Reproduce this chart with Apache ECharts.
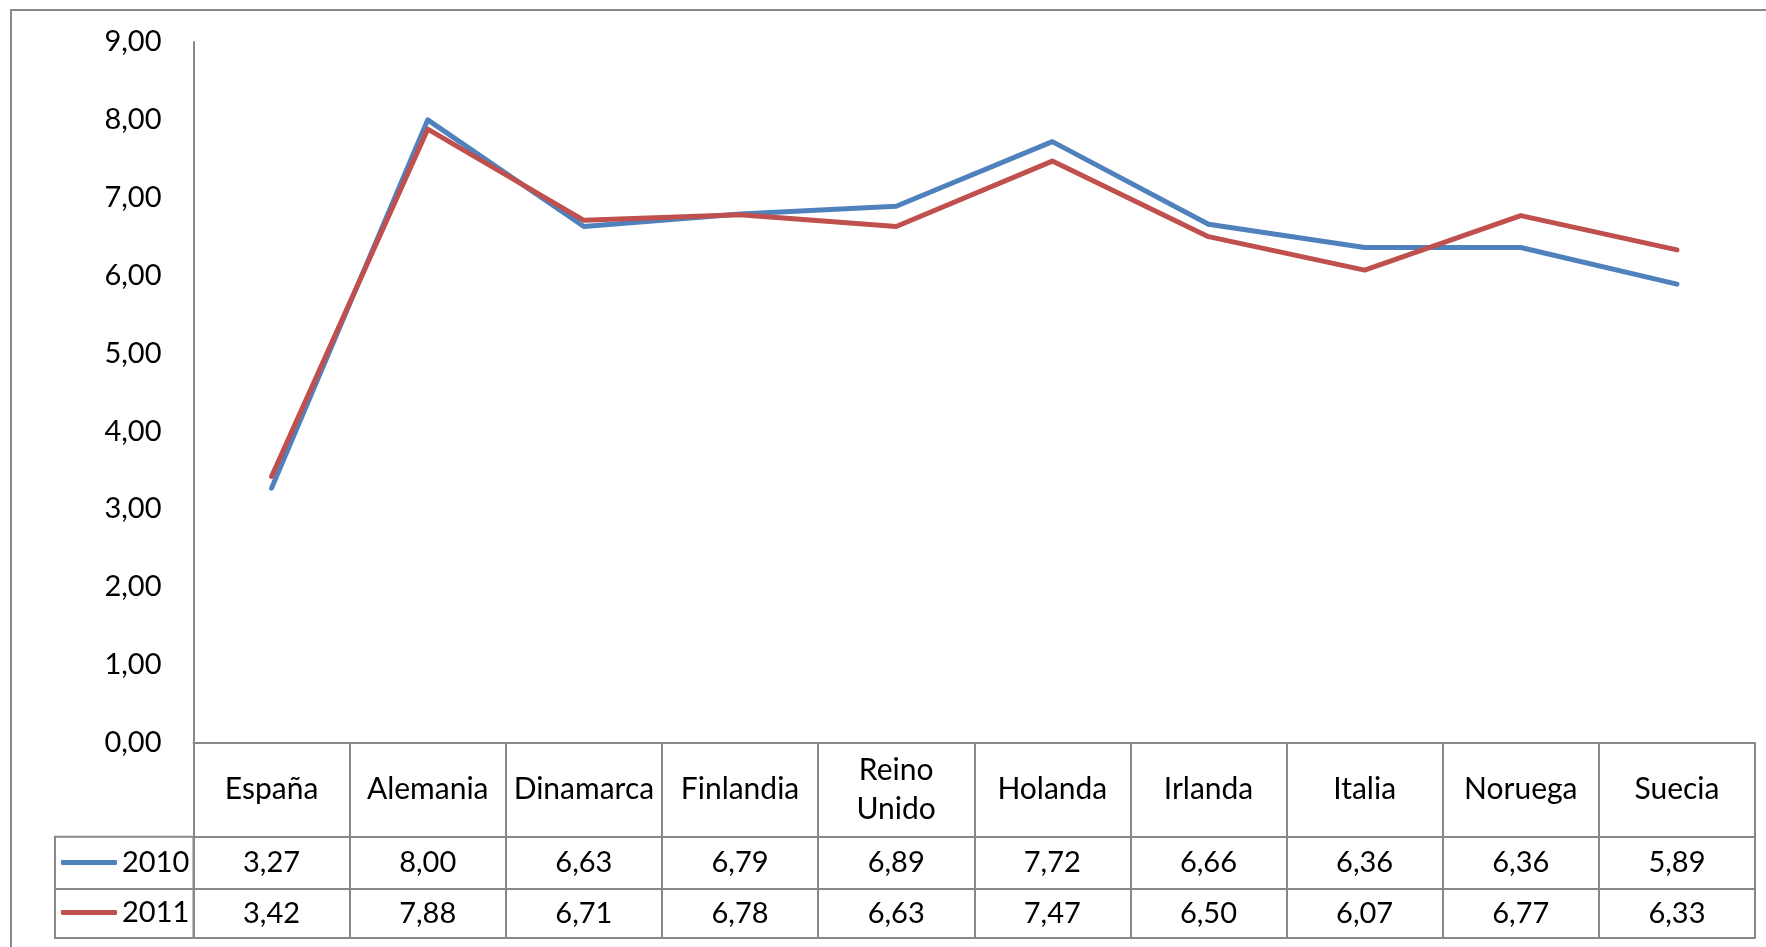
<!DOCTYPE html>
<html>
<head>
<meta charset="utf-8">
<script src="https://cdn.jsdelivr.net/npm/echarts@6/dist/echarts.min.js"></script>
<style>
html, body { margin: 0; padding: 0; background: #fff; }
#chart { width: 1766px; height: 947px; }
</style>
</head>
<body>
<div id="chart"></div>
<script>
// datos
var paises = ['España', 'Alemania', 'Dinamarca', 'Finlandia', 'Reino\nUnido', 'Holanda', 'Irlanda', 'Italia', 'Noruega', 'Suecia'];
var valores2010 = [3.27, 8.00, 6.63, 6.79, 6.89, 7.72, 6.66, 6.36, 6.36, 5.89];
var valores2011 = [3.42, 7.88, 6.71, 6.78, 6.63, 7.47, 6.50, 6.07, 6.77, 6.33];
var yTicks = [0, 1, 2, 3, 4, 5, 6, 7, 8, 9];

var fuente = 'Lato';
var gris = '#888888';

function coma(v) { return v.toFixed(2).replace('.', ','); }

var chart = echarts.init(document.getElementById('chart'));

var filaCab = 94, fila1 = 52.3, fila2 = 49;

function ejeFila(datos, offset, alto, conTexto, tam) {
	return {
		type: 'category',
		position: 'bottom',
		offset: offset,
		data: datos,
		axisLine: { show: true, lineStyle: { color: gris, width: 2 } },
		axisTick: { show: alto > 0, length: alto, interval: 0, lineStyle: { color: gris, width: 2 } },
		axisLabel: {
			show: conTexto,
			interval: 0,
			margin: alto / 2,
			verticalAlign: 'middle',
			padding: [6, 0, 0, 0],
			fontFamily: fuente,
			fontSize: tam,
			lineHeight: 39,
			color: '#000'
		}
	};
}

var option = {
	animation: false,
	backgroundColor: '#fff',
	color: ['#4F81BD', '#C0504D'],
	grid: { left: 193.5, right: 11, top: 42, bottom: 204.3 },
	legend: {
		data: ['2010', '2011'],
		orient: 'vertical',
		left: 61,
		top: 848,
		padding: 0,
		itemGap: 21,
		itemWidth: 56,
		itemHeight: 5,
		icon: 'roundRect',
		textStyle: { fontFamily: fuente, fontSize: 29, color: '#000', padding: [0, 0, 0, 0] }
	},
	xAxis: [
		ejeFila(paises, 0, filaCab, true, 30),
		ejeFila(valores2010.map(coma), filaCab, fila1, true, 29),
		ejeFila(valores2011.map(coma), filaCab + fila1, fila2, true, 29),
		ejeFila(paises, filaCab + fila1 + fila2, 0, false, 29)
	],
	yAxis: {
		type: 'value',
		min: yTicks[0],
		max: yTicks[yTicks.length - 1],
		interval: 1,
		axisLine: { show: true, lineStyle: { color: gris, width: 2 } },
		axisTick: { show: false },
		splitLine: { show: false },
		axisLabel: {
			margin: 32,
			fontFamily: fuente,
			fontSize: 29,
			color: '#000',
			formatter: function (v) { return coma(v); }
		}
	},
	series: [
		{
			name: '2010',
			type: 'line',
			xAxisIndex: 0,
			data: valores2010,
			showSymbol: false,
			lineStyle: { width: 5, cap: 'round', join: 'round' }
		},
		{
			name: '2011',
			type: 'line',
			xAxisIndex: 0,
			data: valores2011,
			showSymbol: false,
			lineStyle: { width: 5, cap: 'round', join: 'round' }
		}
	],
	graphic: [
		// borde del gráfico
		{ type: 'rect', shape: { x: 11, y: 10, width: 1800, height: 1000 }, style: { fill: 'none', stroke: gris, lineWidth: 2 }, silent: true },
		// columna de leyenda
		{ type: 'rect', shape: { x: 55, y: 742.7 + filaCab, width: 138.5, height: fila1 + fila2 }, style: { fill: 'none', stroke: gris, lineWidth: 2 }, silent: true },
		{ type: 'line', shape: { x1: 55, y1: 742.7 + filaCab + fila1, x2: 193.5, y2: 742.7 + filaCab + fila1 }, style: { stroke: gris, lineWidth: 2 }, silent: true }
	]
};

chart.setOption(option);
</script>
</body>
</html>
